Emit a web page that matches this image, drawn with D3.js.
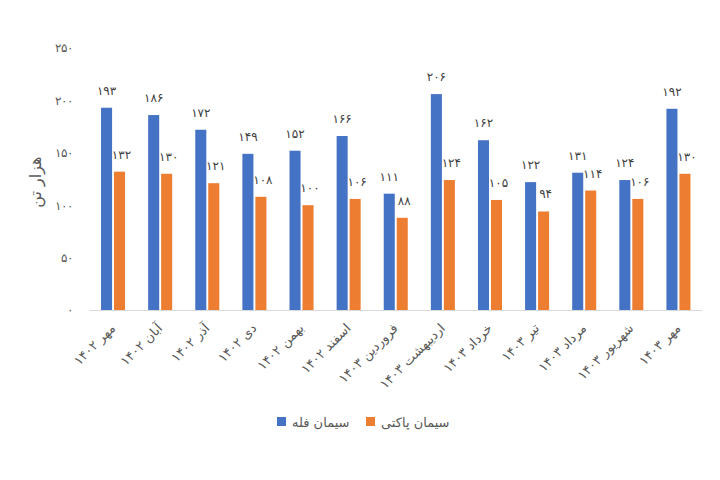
<!DOCTYPE html>
<html lang="fa">
<head>
  <meta charset="UTF-8">
  <title>سیمان</title>
  <style type="text/css">
    body{
      margin: 0;
      background: #fff;
      font-family: "DejaVu Sans", "Noto Sans", sans-serif;
    }
    .axis text{
      font-size: 12px;
      fill: #595959;
    }
    .axis path,
    .axis line{
      stroke: none;
    }
    .vlabel{
      font-size: 12px;
      fill: #404040;
    }
    .legend text{
      font-size: 13px;
      fill: #595959;
    }
  </style>
  <script type="text/javascript" src="https://cdnjs.cloudflare.com/ajax/libs/d3/7.8.5/d3.min.js"></script>
</head>
<body>
<script type="text/javascript">
  // data
  var months = ['مهر ۱۴۰۲', 'آبان ۱۴۰۲', 'آذر ۱۴۰۲', 'دی ۱۴۰۲', 'بهمن ۱۴۰۲', 'اسفند ۱۴۰۲',
    'فروردین ۱۴۰۳', 'اردیبهشت ۱۴۰۳', 'خرداد ۱۴۰۳', 'تیر ۱۴۰۳', 'مرداد ۱۴۰۳', 'شهریور ۱۴۰۳', 'مهر ۱۴۰۳'];
  var bulk = [193, 186, 172, 149, 152, 166, 111, 206, 162, 122, 131, 124, 192];
  var bagged = [132, 130, 121, 108, 100, 106, 88, 124, 105, 94, 114, 106, 130];
  var seriesNames = ['سیمان فله', 'سیمان پاکتی'];
  var yTicks = [0, 50, 100, 150, 200, 250];

  var colors = ['#4472C4', '#ED7D31'];
  var W = 720, H = 480;

  function fa(n){
    return String(n).replace(/[0-9]/g, function(c){ return '۰۱۲۳۴۵۶۷۸۹'[+c]; });
  }

  var svg = d3.select('body').append('svg')
    .attr('width', W)
    .attr('height', H);

  var x0 = d3.scaleBand()
    .domain(months)
    .range([89.5, 702])
    .paddingInner(0.49)
    .paddingOuter(0.245);

  var x1 = d3.scaleBand()
    .domain([0, 1])
    .range([0, x0.bandwidth()])
    .paddingInner(0.15);

  var y = d3.scaleLinear()
    .domain([0, 250])
    .range([310, 48]);

  // y axis labels
  svg.append('g')
    .attr('class', 'axis')
    .attr('transform', 'translate(73,0)')
    .call(d3.axisLeft(y).tickValues(yTicks).tickSize(0).tickPadding(0).tickFormat(fa))
    .call(function(g){ g.select('.domain').remove(); });

  // baseline
  svg.append('line')
    .attr('x1', 89.5).attr('x2', 702)
    .attr('y1', y(0) + 0.5).attr('y2', y(0) + 0.5)
    .attr('stroke', '#d9d9d9')
    .attr('stroke-width', 1);

  // y title
  svg.append('text')
    .attr('transform', 'translate(35,' + y(122) + ') rotate(-90)')
    .attr('text-anchor', 'middle')
    .attr('dy', '0.35em')
    .style('font-size', '16px')
    .style('fill', '#595959')
    .text('هزار تن');

  var rows = months.map(function(m, i){ return {m: m, v: [bulk[i], bagged[i]]}; });

  var group = svg.selectAll('.grp')
    .data(rows)
    .enter().append('g')
    .attr('class', 'grp')
    .attr('transform', function(d){ return 'translate(' + x0(d.m) + ',0)'; });

  group.selectAll('rect')
    .data(function(d){ return d.v; })
    .enter().append('rect')
    .attr('x', function(d, i){ return x1(i); })
    .attr('width', x1.bandwidth())
    .attr('y', function(d){ return y(d); })
    .attr('height', function(d){ return y(0) - y(d); })
    .attr('fill', function(d, i){ return colors[i]; });

  group.selectAll('.vlabel')
    .data(function(d){ return d.v; })
    .enter().append('text')
    .attr('class', 'vlabel')
    .attr('x', function(d, i){ return x1(i) + x1.bandwidth() / 2 + (i ? 2 : 0); })
    .attr('y', function(d){ return y(d) - 13; })
    .attr('text-anchor', 'middle')
    .text(function(d){ return fa(d); });

  // x labels
  svg.selectAll('.xlab')
    .data(months)
    .enter().append('text')
    .attr('class', 'xlab')
    .attr('transform', function(d){
      return 'translate(' + (x0(d) + x0.bandwidth() / 2 + 3) + ',' + 329 + ') rotate(-45)';
    })
    .attr('text-anchor', 'end')
    .style('font-size', '13px')
    .style('fill', '#595959')
    .text(function(d){ return d; });

  // legend
  var legendX = [277, 366];
  var legend = svg.selectAll('.legend')
    .data(seriesNames)
    .enter().append('g')
    .attr('class', 'legend')
    .attr('transform', function(d, i){ return 'translate(' + legendX[i] + ',417)'; });

  legend.append('rect')
    .attr('width', 9)
    .attr('height', 9)
    .attr('fill', function(d, i){ return colors[i]; });

  legend.append('text')
    .attr('x', 15)
    .attr('y', 5)
    .attr('dy', '0.35em')
    .text(function(d){ return d; });
</script>
</body>
</html>
